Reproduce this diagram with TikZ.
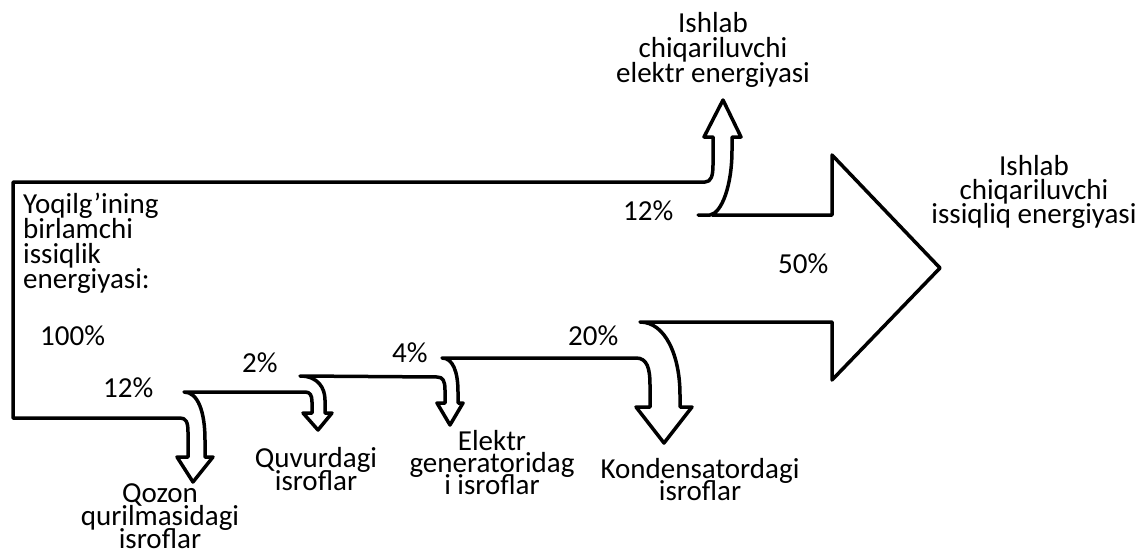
\documentclass[tikz,border=0pt]{standalone}
\usepackage{fontspec}
\setmainfont{Carlito}
\newcommand\mlcenter[2]{\vtop{\baselineskip=#1pt\lineskiplimit=-100pt\lineskip=0pt\halign{\hfil##\hfil\cr#2\crcr}}}
\newcommand\mlleft[2]{\vtop{\baselineskip=#1pt\lineskiplimit=-100pt\lineskip=0pt\halign{##\hfil\cr#2\crcr}}}
\begin{document}
\begin{tikzpicture}[x=1pt,y=-1pt,
  flow/.style={line width=3.5pt,line join=round,line cap=round},
  lbl/.style={inner sep=0pt,anchor=base},
  pct/.style={inner sep=0pt,anchor=base west},
]
\useasboundingbox (0,0) rectangle (1138,551);
\draw[flow]
  (698,215) -- (710,215) .. controls (722,213) and (732,185) .. (732,150)
  -- (732,137) -- (741,137) -- (723,100) -- (704,137) -- (713,137) -- (713,165)
  .. controls (713,176) and (711,182) .. (705,182)
  -- (13,182) -- (13,418) -- (180,418)
  .. controls (186,418) and (188,422) .. (188,432)
  -- (188,457) -- (177,457) -- (193,482) -- (213,457) -- (205,457) -- (205,440)
  .. controls (205,412) and (198,392) .. (184,392)
  -- (305,392) .. controls (310,392) and (312,395) .. (312,402)
  -- (312,413) -- (303,413) -- (318,430) -- (332,413) -- (325,413) -- (325,400)
  .. controls (325,388) and (318,376) .. (300,376)
  -- (437,377) .. controls (443,377) and (445,381) .. (445,390)
  -- (445,403) -- (437,403) -- (450,425) -- (463,403) -- (458,403) -- (458,392)
  .. controls (458,372) and (453,358) .. (442,358)
  -- (636,358) .. controls (647,358) and (650,368) .. (650,385)
  -- (650,407) -- (636,407) -- (664,443) -- (692,407) -- (680,407) -- (680,395)
  .. controls (680,355) and (665,322) .. (640,322)
  -- (832,322) -- (832,380) -- (940,268) -- (832,155) -- (832,215) -- (712,215);
\begin{scope}[font=\fontsize{29}{25}\selectfont]
\node[pct] (src) at (23,213) {\mlleft{25}{Yoqilg’ining\cr birlamchi\cr issiqlik\cr energiyasi:}};
\node[pct] (p100) at (40,345) {100\%};
\node[pct] (p12a) at (103,397) {12\%};
\node[pct] (p2) at (242,372) {2\%};
\node[pct] (p4) at (392,362) {4\%};
\node[pct] (p20) at (568,345) {20\%};
\node[pct] (p12b) at (623,220) {12\%};
\node[pct] (p50) at (778,273) {50\%};
\node[lbl] (elout) at (713,33) {\mlcenter{25}{Ishlab\cr chiqariluvchi\cr elektr energiyasi}};
\node[lbl] (heatout) at (1034,175) {\mlcenter{24}{Ishlab\cr chiqariluvchi\cr issiqliq energiyasi}};
\node[lbl] (qozon) at (160,502) {\mlcenter{23}{Qozon\cr qurilmasidagi\cr isroflar}};
\node[lbl] (quvur) at (316,467) {\mlcenter{23}{Quvurdagi\cr isroflar}};
\node[lbl] (gen) at (492,450) {\mlcenter{22}{Elektr\cr generatoridag\cr i isroflar}};
\node[lbl] (kond) at (700,478) {\mlcenter{22}{Kondensatordagi\cr isroflar}};
\end{scope}
\end{tikzpicture}
\end{document}
